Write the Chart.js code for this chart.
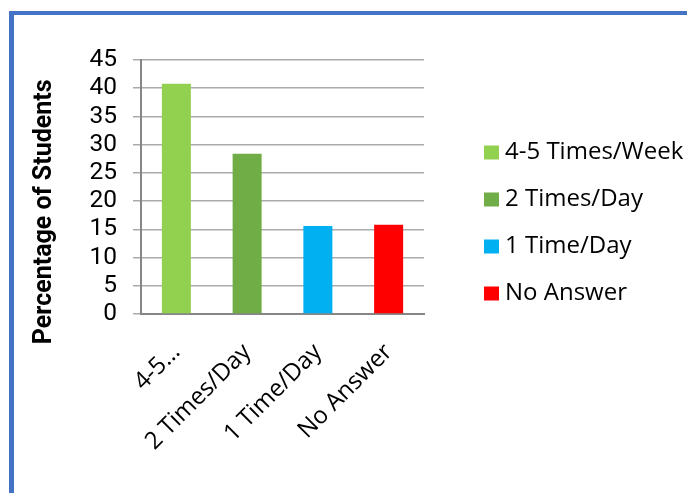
<!DOCTYPE html>
<html>
<head>
<meta charset="utf-8">
<script src="https://cdn.jsdelivr.net/npm/chart.js@4"></script>
<style>
  html, body { margin: 0; padding: 0; background: #ffffff; }
  #wrap { position: relative; width: 687px; height: 493px; }
</style>
</head>
<body>
<div id="wrap"><canvas id="c" width="687" height="493"></canvas></div>
<script>
// ---- data ----
const categories = ["4-5\u2026", "2 Times/Day", "1 Time/Day", "No Answer"];
const legendNames = ["4-5 Times/Week", "2 Times/Day", "1 Time/Day", "No Answer"];
const percentages = [40.8, 28.4, 15.6, 15.8];
const barColors = ["#92D050", "#70AD47", "#00B0F0", "#FF0000"];
const yTitle = "Percentage of Students";
const yMin = 0, yMax = 45, yStep = 5;

const frame = {
  id: 'frame',
  beforeDraw(chart) {
    const ctx = chart.ctx;
    ctx.save();
    ctx.fillStyle = '#4472C4';
    ctx.fillRect(9, 11, chart.width - 9, 4);
    ctx.fillRect(9, 11, 5, chart.height - 11);
    ctx.restore();
  }
};

const legendPlace = {
  id: 'legendPlace',
  afterLayout(chart) {
    const L = chart.legend;
    L.left = 467; L.right = chart.width; L.width = L.right - L.left;
    L.top = 60; L.bottom = 386; L.height = L.bottom - L.top;
  }
};

new Chart(document.getElementById('c'), {
  type: 'bar',
  data: {
    labels: categories,
    datasets: [{
      data: percentages,
      backgroundColor: barColors,
      borderWidth: 0,
      barPercentage: 0.82,
      categoryPercentage: 0.5
    }]
  },
  options: {
    responsive: false,
    animation: false,
    devicePixelRatio: 1,
    layout: { padding: { left: 14, top: 60, right: 113, bottom: 39 } },
    plugins: {
      tooltip: { enabled: false },
      legend: {
        position: 'right',
        align: 'center',
        maxWidth: 150,
        labels: {
          font: { family: "'Open Sans'", size: 24 },
          color: '#000000',
          padding: 23,
          boxWidth: 3,
          boxHeight: 2,
          generateLabels(chart) {
            return legendNames.map((name, i) => ({
              text: name,
              fillStyle: barColors[i],
              strokeStyle: barColors[i],
              lineWidth: 12,
              hidden: false,
              index: i
            }));
          }
        }
      }
    },
    scales: {
      x: {
        grid: { display: false },
        border: { display: true, color: '#868686', width: 2 },
        ticks: {
          font: { family: "'Open Sans'", size: 24 },
          color: '#000000',
          minRotation: 45,
          maxRotation: 45,
          autoSkip: false,
          padding: 16
        },
        afterFit(s) { s.height = 140; }
      },
      y: {
        min: yMin,
        max: yMax,
        ticks: {
          stepSize: yStep,
          autoSkip: false,
          font: { family: "Roboto", size: 24.5 },
          color: '#000000',
          padding: 16
        },
        grid: { color: '#ababab', lineWidth: 1.5, tickLength: 8 },
        border: { display: true, color: '#868686', width: 2 },
        title: {
          display: true,
          text: yTitle + '        ',
          font: { family: "Roboto", size: 25, weight: 'bold' },
          color: '#000000',
          padding: { top: 16, bottom: 0 }
        },
        afterFit(s) { s.width = 127; }
      }
    }
  },
  plugins: [frame, legendPlace]
});
</script>
</body>
</html>
